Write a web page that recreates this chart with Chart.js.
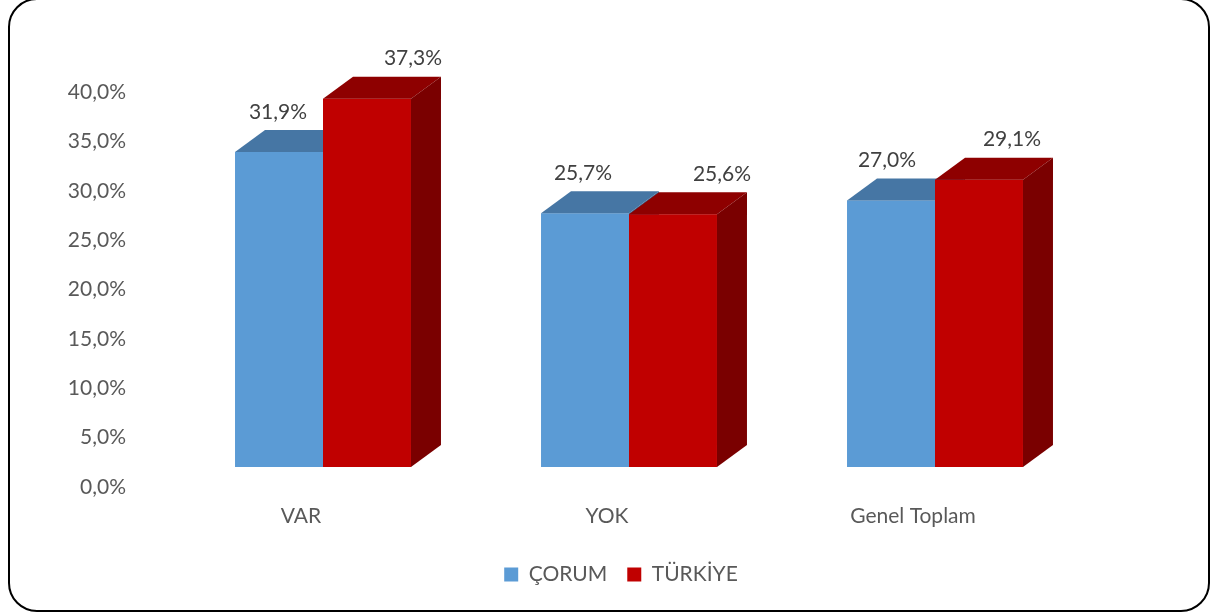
<!DOCTYPE html>
<html>
<head>
<meta charset="utf-8">
<script src="https://cdn.jsdelivr.net/npm/chart.js@4"></script>
<style>
  html, body { margin: 0; padding: 0; background: #fff; }
  #wrap { width: 1210px; height: 615px; }
</style>
</head>
<body>
<div id="wrap"><canvas id="chart" width="1210" height="615"></canvas></div>
<script>
const categories = ['VAR', 'YOK', 'Genel Toplam'];
const corum = [31.9, 25.7, 27.0];
const turkiye = [37.3, 25.6, 29.1];
const seriesNames = ['ÇORUM', 'TÜRKİYE'];

const FONT = 'Lato, "Liberation Sans", sans-serif';
const FSIZE = 21;
// 3D look: front faces sit forward of the axis plane
const DX = 22, DY = -20;
const DEPTH_X = 30, DEPTH_Y = 22;
const faces = [
  { front: '#5B9BD5', top: '#4676A4', side: '#3F6A94' },
  { front: '#C00000', top: '#8E0000', side: '#7A0000' }
];
// label nudges (x) per dataset/category, as placed in the original
const labelShift = [[-1, -2, -4], [46, 49, 33]];

const fmt = (v) => v.toFixed(1).replace('.', ',') + '%';

const threeD = {
  id: 'threeD',
  beforeDraw(chart) {
    const c = chart.ctx;
    c.save();
    c.fillStyle = '#fff';
    c.fillRect(0, 0, chart.width, chart.height);
    c.beginPath();
    c.roundRect(9, -1, 1200, 612, 28);
    c.lineWidth = 2;
    c.strokeStyle = '#000';
    c.stroke();
    c.restore();
  },
  afterLayout(chart) {
    // legend sits centred under the plot, not the whole canvas
    chart.legend.left += 78;
    chart.legend.right += 78;
  },
  beforeDatasetsDraw(chart) {
    const c = chart.ctx;
    c.save();
    c.translate(DX, DY);
    // draw every bar as a box, series in order so later ones sit in front
    chart.data.datasets.forEach((ds, di) => {
      const col = faces[di];
      chart.getDatasetMeta(di).data.forEach(bar => {
        const l = bar.x - bar.width / 2, r = bar.x + bar.width / 2;
        const t = bar.y, b = bar.base;
        c.fillStyle = col.front;
        c.fillRect(l, t, r - l, b - t);
        c.beginPath();
        c.moveTo(l, t); c.lineTo(r, t);
        c.lineTo(r + DEPTH_X, t - DEPTH_Y); c.lineTo(l + DEPTH_X, t - DEPTH_Y);
        c.closePath();
        c.fillStyle = col.top; c.fill();
        c.beginPath();
        c.moveTo(r, t); c.lineTo(r + DEPTH_X, t - DEPTH_Y);
        c.lineTo(r + DEPTH_X, b - DEPTH_Y); c.lineTo(r, b);
        c.closePath();
        c.fillStyle = col.side; c.fill();
      });
    });
    c.font = FSIZE + 'px ' + FONT;
    c.fillStyle = '#404040';
    c.textAlign = 'center';
    c.textBaseline = 'middle';
    chart.data.datasets.forEach((ds, di) => {
      chart.getDatasetMeta(di).data.forEach((bar, i) => {
        c.fillText(fmt(ds.data[i]), bar.x + labelShift[di][i], bar.y - 40);
      });
    });
    c.restore();
    return false; // flat bars are replaced by the boxes above
  }
};

const chart = new Chart(document.getElementById('chart'), {
  type: 'bar',
  data: {
    labels: categories,
    datasets: [
      { label: seriesNames[0], data: corum, backgroundColor: faces[0].front },
      { label: seriesNames[1], data: turkiye, backgroundColor: faces[1].front }
    ]
  },
  options: {
    responsive: false,
    animation: false,
    devicePixelRatio: 1,
    layout: { padding: { left: 20, right: 144, top: 92, bottom: 20 } },
    datasets: { bar: { categoryPercentage: 0.575, barPercentage: 1 } },
    scales: {
      x: {
        grid: { display: false, drawTicks: false },
        border: { display: false },
        ticks: { color: '#595959', font: { family: FONT, size: FSIZE }, padding: 17 },
        afterFit: (s) => { s.height = 57; }
      },
      y: {
        min: 0, max: 40,
        grid: { display: false, drawTicks: false },
        border: { display: false },
        ticks: { stepSize: 5, color: '#595959', font: { family: FONT, size: FSIZE }, padding: 22, callback: (v) => fmt(v) },
        afterFit: (s) => { s.width = 128; }
      }
    },
    plugins: {
      legend: {
        position: 'bottom',
        labels: {
          color: '#595959',
          font: { family: FONT, size: FSIZE },
          boxWidth: 14, boxHeight: 14, padding: 20
        }
      },
      tooltip: { enabled: false }
    }
  },
  plugins: [threeD]
});
</script>
</body>
</html>
